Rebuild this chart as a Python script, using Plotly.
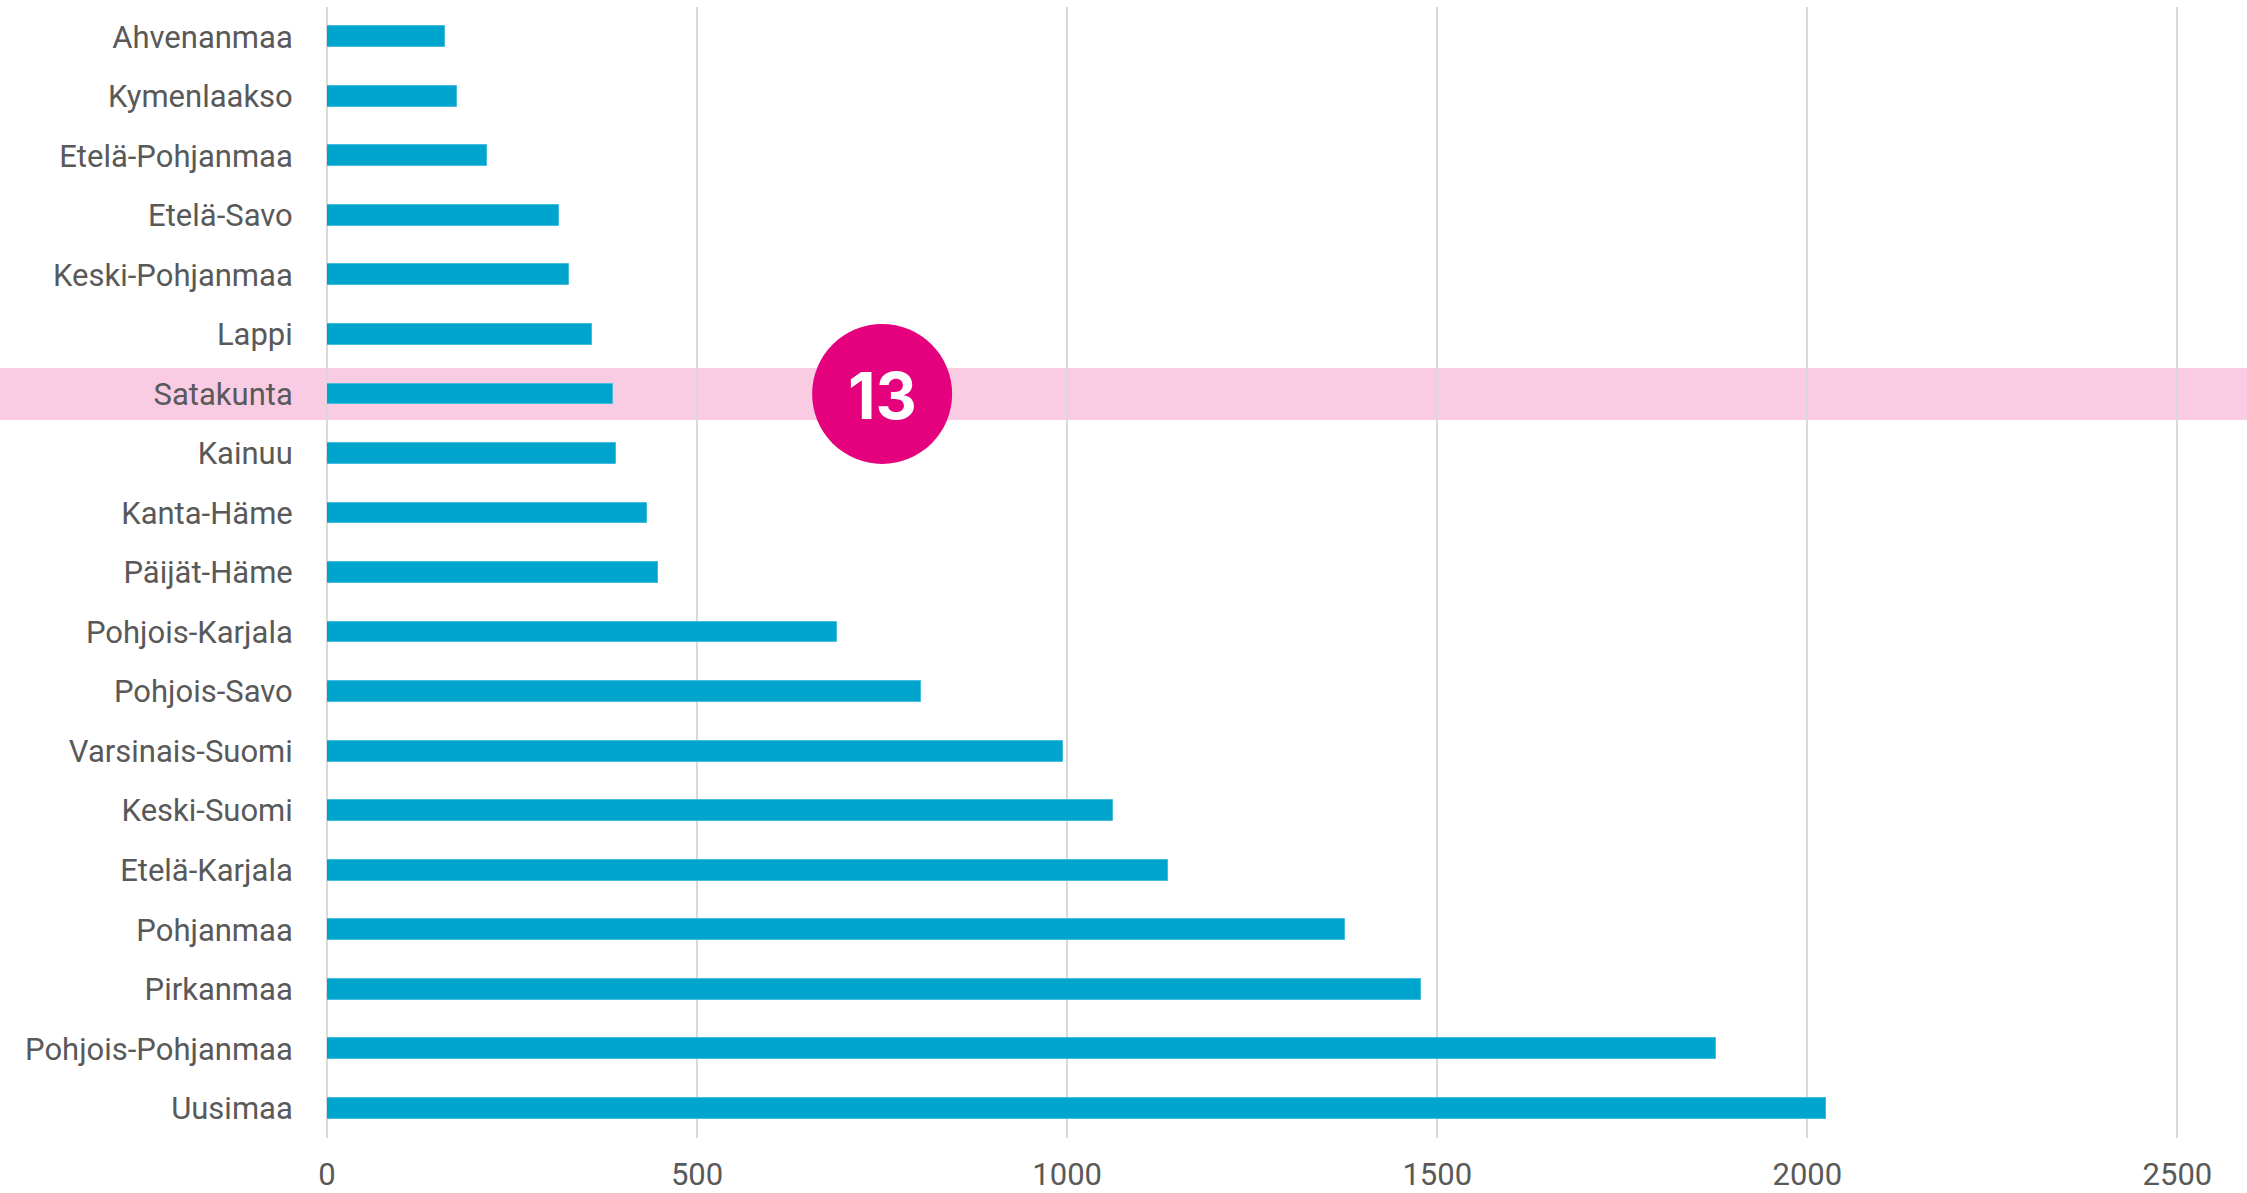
import plotly.graph_objects as go

maakunnat = ['Ahvenanmaa', 'Kymenlaakso', 'Etelä-Pohjanmaa', 'Etelä-Savo', 'Keski-Pohjanmaa',
             'Lappi', 'Satakunta', 'Kainuu', 'Kanta-Häme', 'Päijät-Häme', 'Pohjois-Karjala',
             'Pohjois-Savo', 'Varsinais-Suomi', 'Keski-Suomi', 'Etelä-Karjala', 'Pohjanmaa',
             'Pirkanmaa', 'Pohjois-Pohjanmaa', 'Uusimaa']
arvot = [159, 176, 216, 314, 327, 358, 387, 390, 432, 447, 689, 803, 994, 1062, 1136,
         1375, 1478, 1876, 2025]
x_ticks = [0, 500, 1000, 1500, 2000, 2500]

korostus = 'Satakunta'
sijoitus = '13'
pallo_x = 750

fig = go.Figure()
fig.add_trace(go.Bar(x=arvot, y=maakunnat, orientation='h', width=0.35,
                     marker=dict(color='#00A5CE', line=dict(color='#45BCDD', width=1))))

idx = maakunnat.index(korostus)
# pink highlight row, full width
fig.add_shape(type='rect', xref='paper', yref='y', x0=-327 / 1920, x1=1,
              y0=idx - 0.437, y1=idx + 0.437, fillcolor='#F9CCE4', line_width=0, layer='below')
fig.add_shape(type='circle', xref='x', yref='y', xsizemode='pixel', ysizemode='pixel',
              xanchor=pallo_x, yanchor=idx, x0=-70, x1=70, y0=-70, y1=70,
              fillcolor='#E5007D', line_width=0, layer='above')
fig.add_annotation(x=pallo_x, y=korostus, text='<b>' + sijoitus + '</b>', showarrow=False,
                   font=dict(family='Inter, Roboto', size=64, color='white'), yshift=-2)

fig.update_layout(
    width=2247, height=1193,
    margin=dict(l=327, r=0, t=7, b=55),
    paper_bgcolor='white', plot_bgcolor='rgba(0,0,0,0)',
    showlegend=False,
    font=dict(family='Roboto', size=31, color='#595959'),
    bargap=0,
)
fig.update_xaxes(range=[0, 2594], tickvals=x_ticks, showgrid=True, gridcolor='#D9D9D9',
                 gridwidth=2, zeroline=True, zerolinecolor='#D9D9D9', zerolinewidth=2,
                 showline=False, ticks='outside', ticklen=9, tickcolor='rgba(0,0,0,0)',
                 automargin=False, fixedrange=True)
fig.update_yaxes(categoryorder='array', categoryarray=maakunnat, autorange='reversed',
                 showgrid=False, showline=False, ticks='outside', ticklen=27,
                 tickcolor='rgba(0,0,0,0)', automargin=False, fixedrange=True)

fig.write_html("out.html", config={'displayModeBar': False},
               post_script="document.body.style.margin='0';")
